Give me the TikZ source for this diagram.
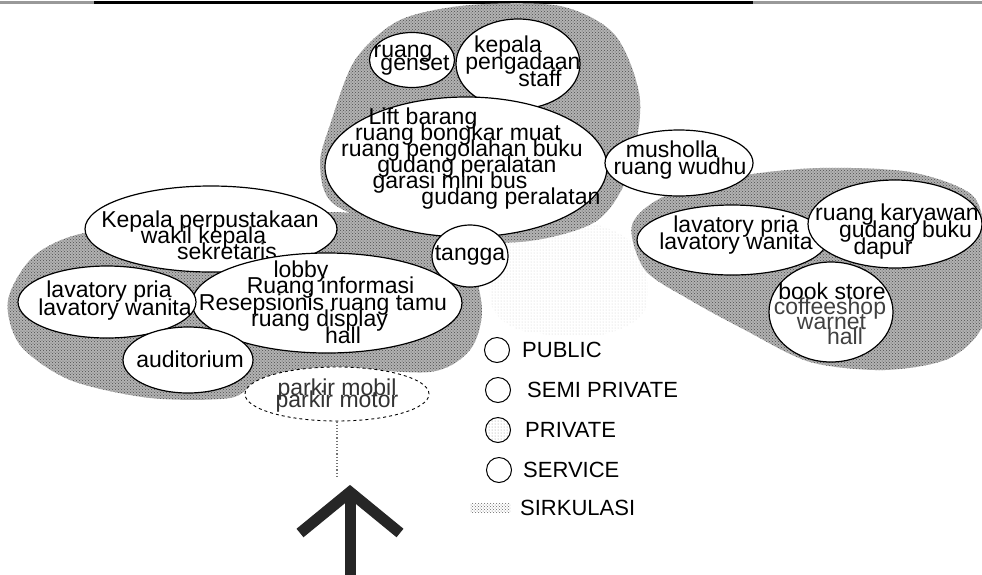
\documentclass[tikz,border=0pt]{standalone}
\usepackage{fontspec}
\setmainfont{Liberation Sans}
\usetikzlibrary{shapes.geometric,patterns}

% shift one line of a centred block sideways
\newcommand\nudge[2]{\hspace*{#1pt}#2\hspace*{-#1pt}}

\begin{document}
\begin{tikzpicture}[x=1pt,y=-1pt,
  zone/.style={preaction={fill=black!30},pattern=crosshatch dots,pattern color=black!70},
  room/.style={ellipse,draw,fill=white,line width=1.2pt,inner sep=0pt},
  roomtext/.style={align=center,inner sep=0pt,
    font={\fontsize{23}{#1}\selectfont\lineskiplimit-50pt\relax}},
  roomtext/.default=16,
  keyring/.style={circle,draw,line width=1pt,minimum size=25pt,inner sep=0pt},
  keytext/.style={anchor=west,inner sep=0pt,font=\fontsize{22}{22}\selectfont},
  sirk/.style={dotted,line width=1.2pt,black!55}]
\useasboundingbox (0,0) rectangle (982,574);

% top rule
\draw[line width=3pt,black!40] (0,2) -- (982,2);
\draw[line width=3pt] (94,2) -- (753,2);

% zones
\fill[zone] plot[smooth cycle] coordinates {(330,125) (355,60) (400,20) (470,5) (560,6)
  (615,35) (640,100) (628,175) (595,222) (520,242) (420,236) (335,205) (320,165)};
\fill[zone] plot[smooth cycle] coordinates {(8,300) (35,255) (90,232) (200,230) (330,212)
  (420,228) (468,262) (482,310) (470,350) (430,372) (330,368) (262,380) (230,398)
  (150,398) (70,380) (20,345)};
\fill[zone] plot[smooth cycle] coordinates {(632,225) (665,196) (740,176) (820,168)
  (910,172) (972,195) (985,240) (985,320) (950,358) (885,370) (810,362) (745,330)
  (690,300) (645,270)};
\fill[pattern=dots,pattern color=black!20] plot[smooth cycle] coordinates {(505,232)
  (585,222) (640,250) (645,310) (600,335) (520,330) (490,300)};

% service group
\node[room,minimum width=85pt,minimum height=55pt] (genset) at (412,60) {};
\node[roomtext=13] (gensettxt) at (410,60) {\nudge{-7}{ruang}\\\nudge{5}{genset}};
\node[room,minimum width=124pt,minimum height=90pt] (pengadaan) at (518,64) {};
\node[roomtext=17] (pengadaantxt) at (523,61) {\nudge{-15}{kepala}\\pengadaan\\\nudge{17}{staff}};
\node[room,minimum width=282pt,minimum height=140pt] (gudang) at (466,167) {};
\node[roomtext] (gudangtxt) at (462,159) {\nudge{-39}{Lift barang}\\\nudge{-8}{ruang bongkar muat}\\
  ruang pengolahan buku\\\nudge{10}{gudang peralatan}\\\nudge{-24}{garasi mini bus}\\
  \nudge{49}{gudang peralatan}};
\node[room,minimum width=148pt,minimum height=66pt] (musholla) at (679,163) {};
\node[roomtext=17] (mushollatxt) at (680,160) {\nudge{-8}{musholla}\\ruang wudhu};
\node[room,minimum width=76pt,minimum height=62pt] (tangga) at (470,256) {};
\node[roomtext] (tanggatxt) at (470,255) {tangga};

% public group
\node[room,minimum width=252pt,minimum height=86pt] (kepala) at (211,229) {};
\node[roomtext=16] (kepalatxt) at (210,235) {Kepala perpustakaan\\\nudge{-13}{wakil kepala}\\
  \nudge{17}{sekretaris}};
\node[room,minimum width=270pt,minimum height=100pt] (lobby) at (327,303) {};
\node[roomtext=16.5] (lobbytxt) at (323,302) {\nudge{-22}{lobby}\\\nudge{15}{Ruang informasi}\\
  Resepsionis ruang tamu\\\nudge{-7}{ruang display}\\\nudge{20}{hall}};
\node[room,minimum width=178pt,minimum height=72pt] (lavkiri) at (107,302) {};
\node[roomtext=18] (lavkiritxt) at (115,301) {\nudge{-6}{lavatory pria}\\lavatory wanita};
\node[room,minimum width=130pt,minimum height=66pt] (auditorium) at (188,360) {};
\node[roomtext] (auditoriumtxt) at (190,359) {auditorium};
\node[room,dashed,line width=0.9pt,minimum width=184pt,minimum height=54pt] (parkir) at (337,394) {};
\node[roomtext=12,text=black!80] (parkirtxt) at (337,396) {parkir mobil\\parkir motor};

% right group
\node[room,minimum width=190pt,minimum height=70pt] (lavkanan) at (732,240) {};
\node[roomtext=17] (lavkanantxt) at (736,235) {lavatory pria\\lavatory wanita};
\node[room,minimum width=174pt,minimum height=88pt] (karyawan) at (895,224) {};
\node[roomtext=17] (karyawantxt) at (897,232) {ruang karyawan\\\nudge{17}{gudang buku}\\
  \nudge{-14}{dapur}};
\node[room,minimum width=124pt,minimum height=100pt] (bookstore) at (831,312) {};
\node[roomtext=15] (bookstoretxt) at (830,314) {\nudge{2}{book store}\\
  \textcolor{black!75}{coffeeshop}\\\nudge{3}{\textcolor{black!75}{warnet}}\\
  \nudge{15}{\textcolor{black!75}{hall}}};

% circulation
\coordinate (sirkend) at (337,478);
\draw[sirk] (parkir.south) -- (sirkend);

% legend
\node[keyring] (kpublic) at (497,350) {};
\node[keytext] (tpublic) at (522,350) {PUBLIC};
\node[keyring] (ksemi) at (498,390) {};
\node[keytext] (tsemi) at (527,390) {SEMI PRIVATE};
\node[keyring,pattern=dots,pattern color=black!45] (kprivate) at (498,430) {};
\node[keytext] (tprivate) at (525,430) {PRIVATE};
\node[keyring] (kservice) at (499,470) {};
\node[keytext] (tservice) at (523,470) {SERVICE};
\node[inner sep=0pt,minimum width=40pt,minimum height=9pt,pattern=crosshatch dots,
  pattern color=black!60] (ksirk) at (490,508) {};
\node[keytext] (tsirk) at (520,508) {SIRKULASI};

% north arrow
\coordinate (north) at (350,492);
\draw[line width=11pt,black!85,line join=miter] (north) ++(-50,41) -- (north) -- ++(50,41);
\draw[line width=11pt,black!85] (north) ++(0,4) -- (350,580);
\end{tikzpicture}
\end{document}
